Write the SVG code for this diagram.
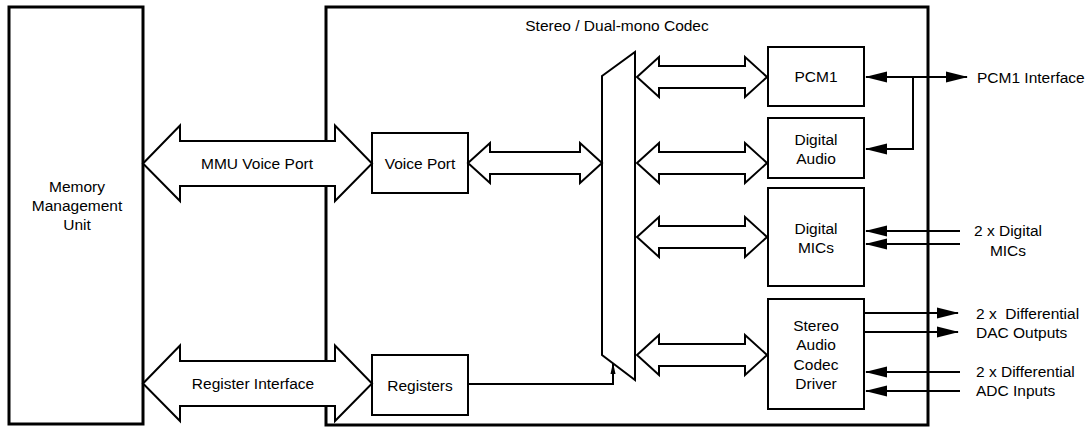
<svg xmlns="http://www.w3.org/2000/svg" width="1090" height="427" viewBox="0 0 1090 427">
<style>
.box{fill:#fff;stroke:#000;stroke-width:2}
.outer{fill:none;stroke:#000;stroke-width:3}
.barrow{fill:#fff;stroke:#000;stroke-width:2;stroke-linejoin:miter}
.ln{fill:none;stroke:#000;stroke-width:2}
.t{font-family:"Liberation Sans",Arial,sans-serif;font-size:15.5px;fill:#000;dominant-baseline:central}
.c{text-anchor:middle}
</style>
<defs>
<marker id="ah" markerUnits="userSpaceOnUse" markerWidth="22" markerHeight="12" viewBox="0 0 22 12" refX="21" refY="6" orient="auto-start-reverse">
<path d="M0,0.5 L22,6 L0,11.5 Z" fill="#000"/>
</marker>
<marker id="up" markerUnits="userSpaceOnUse" markerWidth="12" markerHeight="24" viewBox="0 0 24 12" refX="22" refY="6" orient="auto">
<path d="M0,1 L23,6 L0,11 Z" fill="#000"/>
</marker>
</defs>
<g id="mmu">
<rect class="outer" x="9" y="7" width="134" height="417"/>
<text class="t c" x="77" y="186">Memory</text>
<text class="t c" x="77" y="205">Management</text>
<text class="t c" x="77" y="224">Unit</text>
</g>
<g id="codec">
<rect class="outer" x="326" y="7" width="602" height="418"/>
<text class="t c" x="617" y="25">Stereo / Dual-mono Codec</text>
</g>
<g id="voice-port">
<rect class="box" x="372" y="133" width="96" height="60"/>
<text class="t c" x="420" y="163">Voice Port</text>
</g>
<g id="registers">
<rect class="box" x="372" y="355" width="96" height="60"/>
<text class="t c" x="420" y="385">Registers</text>
</g>
<g id="mux">
<polygon class="box" points="602,76 635,52 635,380 602,355"/>
</g>
<g id="pcm1">
<rect class="box" x="768" y="47" width="96" height="59"/>
<text class="t c" x="816" y="76">PCM1</text>
</g>
<g id="digital-audio">
<rect class="box" x="768" y="118" width="96" height="60"/>
<text class="t c" x="816" y="139">Digital</text>
<text class="t c" x="816" y="158">Audio</text>
</g>
<g id="digital-mics">
<rect class="box" x="768" y="188" width="96" height="98"/>
<text class="t c" x="816" y="228">Digital</text>
<text class="t c" x="816" y="247">MICs</text>
</g>
<g id="stereo-driver">
<rect class="box" x="768" y="299" width="96" height="110"/>
<text class="t c" x="816" y="325">Stereo</text>
<text class="t c" x="816" y="344">Audio</text>
<text class="t c" x="816" y="364">Codec</text>
<text class="t c" x="816" y="383">Driver</text>
</g>
<g id="connectors">
<path class="barrow" d="M143,163.5 L180,125.5 L180,141 L335,141 L335,125.5 L372,163.5 L335,201 L335,186 L180,186 L180,201 Z"/>
<text class="t c" x="257" y="163">MMU Voice Port</text>
<path class="barrow" d="M143,383.5 L180,345.5 L180,361 L335,361 L335,345.5 L372,383.5 L335,421 L335,406 L180,406 L180,421 Z"/>
<text class="t c" x="253" y="383">Register Interface</text>
<path class="barrow" d="M468,163 L490,143 L490,152 L580,152 L580,143 L602,163 L580,183 L580,174 L490,174 L490,183 Z"/>
<path class="barrow" d="M637,77 L659,57 L659,66 L745,66 L745,57 L767,77 L745,97 L745,88 L659,88 L659,97 Z"/>
<path class="barrow" d="M637,163 L659,143 L659,152 L745,152 L745,143 L767,163 L745,183 L745,174 L659,174 L659,183 Z"/>
<path class="barrow" d="M637,237 L659,217 L659,226 L745,226 L745,217 L767,237 L745,257 L745,248 L659,248 L659,257 Z"/>
<path class="barrow" d="M637,355 L659,335 L659,344 L745,344 L745,335 L767,355 L745,375 L745,366 L659,366 L659,375 Z"/>
<path class="ln" d="M468,384 H613 V363" marker-end="url(#up)"/>
<line class="ln" x1="866" y1="77" x2="967" y2="77" marker-start="url(#ah)" marker-end="url(#ah)"/>
<path class="ln" d="M913,77 V149 H866" marker-end="url(#ah)"/>
<text class="t" x="977" y="77">PCM1 Interface</text>
<line class="ln" x1="960" y1="231" x2="866" y2="231" marker-end="url(#ah)"/>
<line class="ln" x1="960" y1="244" x2="866" y2="244" marker-end="url(#ah)"/>
<text class="t c" x="1008" y="230">2 x Digital</text>
<text class="t c" x="1008" y="250">MICs</text>
<line class="ln" x1="864" y1="313" x2="958" y2="313" marker-end="url(#ah)"/>
<line class="ln" x1="864" y1="332" x2="958" y2="332" marker-end="url(#ah)"/>
<text class="t" x="976" y="313" style="white-space:pre">2 x  Differential</text>
<text class="t" x="976" y="332">DAC Outputs</text>
<line class="ln" x1="960" y1="372" x2="866" y2="372" marker-end="url(#ah)"/>
<line class="ln" x1="960" y1="391" x2="866" y2="391" marker-end="url(#ah)"/>
<text class="t" x="976" y="371">2 x Differential</text>
<text class="t" x="976" y="390">ADC Inputs</text>
</g>
</svg>
